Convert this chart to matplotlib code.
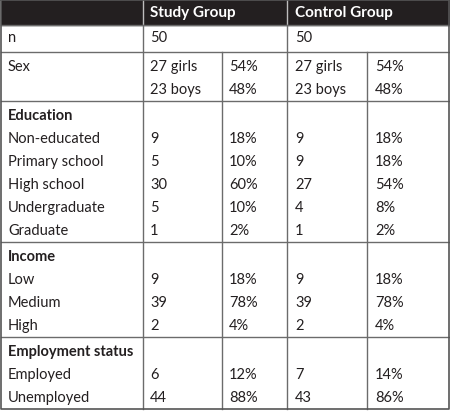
import matplotlib.pyplot as plt

plt.rcParams["font.family"] = ["Lato", "DejaVu Sans"]

groups = ["Study Group", "Control Group"]
n_values = [50, 50]

sex_labels = ["27 girls", "23 boys"]
study_sex_pct = [54, 48]
control_sex_pct = [54, 48]

education_levels = ["Non-educated", "Primary school", "High school", "Undergraduate", "Graduate"]
study_edu_n = [9, 5, 30, 5, 1]
study_edu_pct = [18, 10, 60, 10, 2]
control_edu_n = [9, 9, 27, 4, 1]
control_edu_pct = [18, 18, 54, 8, 2]

income_levels = ["Low", "Medium", "High"]
study_income_n = [9, 39, 2]
study_income_pct = [18, 78, 4]
control_income_n = [9, 39, 2]
control_income_pct = [18, 78, 4]

employment_levels = ["Employed", "Unemployed"]
study_emp_n = [6, 44]
study_emp_pct = [12, 88]
control_emp_n = [7, 43]
control_emp_pct = [14, 86]

# layout in pixels
W, H = 450, 411
col_lines = [143, 222, 287, 367]
text_x = [8, 150, 229, 295, 375]
header_h = 25
n_row_bottom = 52
line_h = 23
pad_top = 15
pad_bottom = 11

header_color = "#231f20"
grid_color = "#6b6b6b"
text_color = "#231f20"
fs = 10.5

fig = plt.figure(figsize=(W / 100, H / 100), dpi=100)
ax = fig.add_axes([0, 0, 1, 1])
ax.set_xlim(0, W)
ax.set_ylim(H, 0)
ax.axis("off")

# header
ax.add_patch(plt.Rectangle((1, 0), W - 2, header_h, color=header_color, zorder=1))
for x in (col_lines[0], col_lines[2]):
    ax.plot([x, x], [0, header_h], color="#bdbdbd", lw=1, zorder=2)
for x, g in zip((text_x[1], text_x[3]), groups):
    ax.text(x, header_h / 2 + 0.5, g, color="white", fontsize=fs + 0.5,
            fontweight="bold", va="center", ha="left")

# n row
ax.text(text_x[0], (header_h + n_row_bottom) / 2, "n", fontsize=fs, va="center", color=text_color)
for x, v in zip((text_x[1], text_x[3]), n_values):
    ax.text(x, (header_h + n_row_bottom) / 2, str(v), fontsize=fs, va="center", color=text_color)


def pct(v):
    return f"{v}%"


sections = [
    (None, ["Sex", ""],
     [sex_labels, [pct(v) for v in study_sex_pct], sex_labels, [pct(v) for v in control_sex_pct]]),
    ("Education", education_levels,
     [[str(v) for v in study_edu_n], [pct(v) for v in study_edu_pct],
      [str(v) for v in control_edu_n], [pct(v) for v in control_edu_pct]]),
    ("Income", income_levels,
     [[str(v) for v in study_income_n], [pct(v) for v in study_income_pct],
      [str(v) for v in control_income_n], [pct(v) for v in control_income_pct]]),
    ("Employment status", employment_levels,
     [[str(v) for v in study_emp_n], [pct(v) for v in study_emp_pct],
      [str(v) for v in control_emp_n], [pct(v) for v in control_emp_pct]]),
]

h_lines = [header_h, n_row_bottom]
top = n_row_bottom
for title, labels, cols in sections:
    y = top + pad_top
    offset = 0
    if title is not None:
        ax.text(text_x[0], y, title, fontsize=fs, fontweight="bold", va="center", color=text_color)
        offset = 1
    for i, lab in enumerate(labels):
        yy = y + (i + offset) * line_h
        if lab:
            ax.text(text_x[0], yy, lab, fontsize=fs, va="center", color=text_color)
    for c, values in enumerate(cols):
        for i, v in enumerate(values):
            yy = y + (i + offset) * line_h
            ax.text(text_x[c + 1], yy, v, fontsize=fs, va="center", color=text_color)
    n_lines = len(labels) + offset if labels[-1] else len(labels)
    bottom = y + (n_lines - 1) * line_h + pad_bottom
    h_lines.append(bottom)
    top = bottom

for y in h_lines[1:-1]:
    ax.plot([1, W - 1], [y, y], color=grid_color, lw=1, zorder=2)
ax.plot([1, W - 1], [header_h, header_h], color=grid_color, lw=1, zorder=2)

# vertical lines
for x in (col_lines[0], col_lines[2]):
    ax.plot([x, x], [header_h, h_lines[-1]], color=grid_color, lw=1, zorder=2)
for x in (col_lines[1], col_lines[3]):
    ax.plot([x, x], [n_row_bottom, h_lines[-1]], color=grid_color, lw=1, zorder=2)

# outer border
ax.plot([1, 1, W - 1, W - 1, 1], [0, h_lines[-1], h_lines[-1], 0, 0],
        color="#555555", lw=1.2, zorder=3)

fig.savefig("out.png", dpi=100)
